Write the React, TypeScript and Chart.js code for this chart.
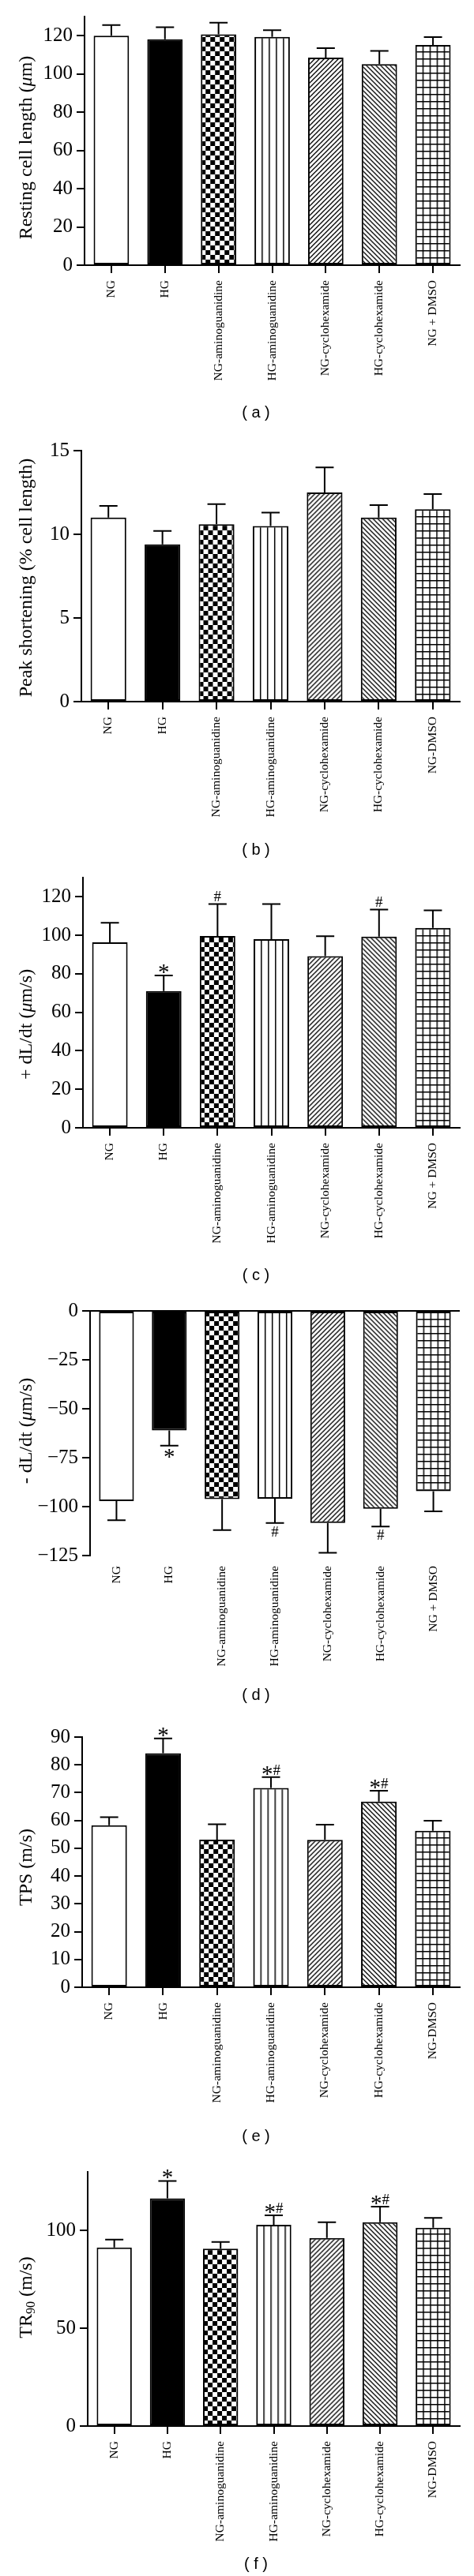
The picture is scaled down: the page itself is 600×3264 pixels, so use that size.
import React, { useEffect, useRef } from "react";
import { Chart, registerables } from "chart.js";

Chart.register(...registerables);

const SERIF = '"Liberation Serif", "Times New Roman", Times, serif';
const SANS = '"Liberation Sans", Arial, sans-serif';

// ---------- categories ----------
const groupsPlusDmso = ["NG", "HG", "NG-aminoguanidine", "HG-aminoguanidine", "NG-cyclohexamide", "HG-cyclohexamide", "NG + DMSO"];
const groupsDashDmso = ["NG", "HG", "NG-aminoguanidine", "HG-aminoguanidine", "NG-cyclohexamide", "HG-cyclohexamide", "NG-DMSO"];

// ---------- (a) resting cell length ----------
const restingLength = [120, 118.1, 120.7, 119.4, 108.5, 105.1, 115.1];
const restingLengthSem = [5.6, 6.3, 6.1, 3.5, 5.0, 6.9, 4.2];
const restingLengthMarks = ["", "", "", "", "", "", ""];

// ---------- (b) peak shortening ----------
const peakShortening = [11.0, 9.4, 10.6, 10.5, 12.5, 11.0, 11.5];
const peakShorteningSem = [0.7, 0.8, 1.2, 0.8, 1.5, 0.75, 0.9];
const peakShorteningMarks = ["", "", "", "", "", "", ""];

// ---------- (c) +dL/dt ----------
const plusDLdt = [96.4, 71.1, 99.7, 98.0, 89.2, 99.3, 103.9];
const plusDLdtSem = [10.1, 8.0, 16.6, 18.3, 10.3, 14.1, 9.1];
const plusDLdtMarks = ["", "*", "#", "", "", "#", ""];

// ---------- (d) -dL/dt ----------
const minusDLdt = [-97.2, -61.1, -96.2, -96.0, -108.4, -101.1, -92.1];
const minusDLdtSem = [9.8, 7.8, 15.8, 12.4, 15.2, 9.1, 10.3];
const minusDLdtMarks = ["", "*", "", "#", "", "#", ""];

// ---------- (e) TPS ----------
const tps = [58.3, 84.2, 53.1, 71.7, 53.0, 66.8, 56.3];
const tpsSem = [2.9, 5.3, 5.5, 3.9, 5.5, 3.9, 3.6];
const tpsMarks = ["", "*", "", "*#", "", "*#", ""];

// ---------- (f) TR90 ----------
const tr90 = [91.3, 116.5, 90.7, 103.0, 96.2, 104.3, 101.4];
const tr90Sem = [4.1, 8.9, 3.5, 4.8, 8.1, 7.9, 5.1];
const tr90Marks = ["", "*", "", "*#", "", "*#", ""];

// ---------- axis titles (segments) ----------
type Seg = { t: string; italic?: boolean; sub?: boolean };
const titleA: Seg[] = [{ t: "Resting cell length (" }, { t: "μ", italic: true }, { t: "m)" }];
const titleB: Seg[] = [{ t: "Peak shortening (% cell length)" }];
const titleC: Seg[] = [{ t: "+ dL/dt (" }, { t: "μ", italic: true }, { t: "m/s)" }];
const titleD: Seg[] = [{ t: "- dL/dt (" }, { t: "μ", italic: true }, { t: "m/s)" }];
const titleE: Seg[] = [{ t: "TPS (m/s)" }];
const titleF: Seg[] = [{ t: "TR" }, { t: "90", sub: true }, { t: " (m/s)" }];

const captions = ["( a )", "( b )", "( c )", "( d )", "( e )", "( f )"];

type PanelDef = {
  labels: string[];
  values: number[];
  sem: number[];
  marks: string[];
  title: Seg[];
  min: number;
  max: number;
  step: number;
  caption: string;
  canvasTop: number;
  axisTop: number;
  chartBottom: number;
  axisX: number;
  captionY: number;
  titleY: number;
};

const PANEL_H = 544;
const RIGHT = 582;
const TITLE_X = 34;
const CAPTION_X = 324;

const panels: PanelDef[] = [
  { labels: groupsPlusDmso, values: restingLength, sem: restingLengthSem, marks: restingLengthMarks, title: titleA, min: 0, max: 130, step: 20, caption: captions[0], canvasTop: 0, axisTop: 21, chartBottom: 336, axisX: 107, captionY: 522, titleY: 187 },
  { labels: groupsDashDmso, values: peakShortening, sem: peakShorteningSem, marks: peakShorteningMarks, title: titleB, min: 0, max: 15, step: 5, caption: captions[1], canvasTop: 544, axisTop: 571, chartBottom: 889, axisX: 103, captionY: 1076, titleY: 732 },
  { labels: groupsPlusDmso, values: plusDLdt, sem: plusDLdtSem, marks: plusDLdtMarks, title: titleC, min: 0, max: 130, step: 20, caption: captions[2], canvasTop: 1088, axisTop: 1112, chartBottom: 1429, axisX: 105, captionY: 1615, titleY: 1298 },
  { labels: groupsPlusDmso, values: minusDLdt, sem: minusDLdtSem, marks: minusDLdtMarks, title: titleD, min: -125, max: 0, step: 25, caption: captions[3], canvasTop: 1632, axisTop: 1661, chartBottom: 1971, axisX: 114, captionY: 2147, titleY: 1813 },
  { labels: groupsDashDmso, values: tps, sem: tpsSem, marks: tpsMarks, title: titleE, min: 0, max: 90, step: 10, caption: captions[4], canvasTop: 2176, axisTop: 2201, chartBottom: 2518, axisX: 104, captionY: 2706, titleY: 2366 },
  { labels: groupsDashDmso, values: tr90, sem: tr90Sem, marks: tr90Marks, title: titleF, min: 0, max: 130, step: 50, caption: captions[5], canvasTop: 2720, axisTop: 2752, chartBottom: 3074, axisX: 111, captionY: 3248, titleY: 2911 },
];

function makeTile(w: number, h: number, draw: (g: CanvasRenderingContext2D) => void) {
  const c = document.createElement("canvas");
  c.width = w;
  c.height = h;
  const g = c.getContext("2d") as CanvasRenderingContext2D;
  g.fillStyle = "#fff";
  g.fillRect(0, 0, w, h);
  g.fillStyle = "#000";
  g.strokeStyle = "#000";
  draw(g);
  return c;
}

function makeFills(ctx: CanvasRenderingContext2D): any[] {
  const checker = makeTile(12, 12, (g) => {
    g.fillRect(0, 0, 6, 6);
    g.fillRect(6, 6, 6, 6);
  });
  const vlines = makeTile(9, 9, (g) => {
    g.fillRect(0, 0, 1.5, 9);
  });
  const fwd = makeTile(6, 6, (g) => {
    g.lineWidth = 1.3;
    g.beginPath();
    g.moveTo(-1, 1); g.lineTo(1, -1);
    g.moveTo(0, 6); g.lineTo(6, 0);
    g.moveTo(5, 7); g.lineTo(7, 5);
    g.stroke();
  });
  const back = makeTile(6, 6, (g) => {
    g.lineWidth = 1.3;
    g.beginPath();
    g.moveTo(0, 0); g.lineTo(6, 6);
    g.moveTo(-1, 5); g.lineTo(1, 7);
    g.moveTo(5, -1); g.lineTo(7, 1);
    g.stroke();
  });
  const grid = makeTile(9, 9, (g) => {
    g.fillRect(0, 0, 9, 1.5);
    g.fillRect(0, 0, 1.5, 9);
  });
  return [
    "#ffffff",
    "#000000",
    ctx.createPattern(checker, "repeat"),
    ctx.createPattern(vlines, "repeat"),
    ctx.createPattern(fwd, "repeat"),
    ctx.createPattern(back, "repeat"),
    ctx.createPattern(grid, "repeat"),
  ];
}

function Panel({ p }: { p: PanelDef }) {
  const ref = useRef<HTMLCanvasElement | null>(null);

  useEffect(() => {
    const canvas = ref.current;
    if (!canvas) return;
    const ctx = canvas.getContext("2d") as CanvasRenderingContext2D;
    const fills = makeFills(ctx);
    const neg = p.max <= 0;
    const padTop = p.axisTop - p.canvasTop;
    const xHeight = p.canvasTop + PANEL_H - p.chartBottom;

    const extras = {
      id: "panelExtras",
      beforeDatasetsDraw(chart: any) {
        const meta = chart.getDatasetMeta(0);
        meta.data.forEach((el: any, i: number) => {
          const f = fills[i];
          if (f && typeof f !== "string" && f.setTransform) {
            f.setTransform(new DOMMatrix([1, 0, 0, 1, el.x - el.width / 2, el.base]));
          }
        });
      },
      afterDraw(chart: any) {
        const c = chart.ctx as CanvasRenderingContext2D;
        const ys = chart.scales.y;
        const meta = chart.getDatasetMeta(0);
        c.save();
        c.strokeStyle = "#000";
        c.fillStyle = "#000";
        c.lineWidth = 2;
        meta.data.forEach((el: any, i: number) => {
          const v = p.values[i];
          const dir = v >= 0 ? 1 : -1;
          const y0 = ys.getPixelForValue(v);
          const y1 = ys.getPixelForValue(v + dir * p.sem[i]);
          c.beginPath();
          c.moveTo(el.x, y0);
          c.lineTo(el.x, y1);
          c.moveTo(el.x - 11.5, y1);
          c.lineTo(el.x + 11.5, y1);
          c.stroke();
          const mark = p.marks[i];
          if (mark) {
            const chars = mark.split("");
            const fonts = chars.map((ch) => (ch === "*" ? `29px ${SERIF}` : `19px ${SERIF}`));
            const widths = chars.map((ch, k) => {
              c.font = fonts[k];
              return c.measureText(ch).width;
            });
            const total = widths.reduce((a, b) => a + b, 0);
            let x = el.x - total / 2;
            c.textAlign = "left";
            c.textBaseline = "alphabetic";
            chars.forEach((ch, k) => {
              c.font = fonts[k];
              const m = c.measureText(ch);
              const by = dir > 0 ? y1 - 3 - m.actualBoundingBoxDescent : y1 + 4 + m.actualBoundingBoxAscent;
              c.fillText(ch, x, by);
              x += widths[k];
            });
          }
        });
        // y-axis title
        const cy = p.titleY - p.canvasTop;
        const segFont = (s: Seg) => (s.sub ? `16px ${SERIF}` : s.italic ? `italic 24px ${SERIF}` : `24px ${SERIF}`);
        const segW = p.title.map((s) => {
          c.font = segFont(s);
          return c.measureText(s.t).width;
        });
        const tw = segW.reduce((a, b) => a + b, 0);
        c.translate(TITLE_X, cy);
        c.rotate(-Math.PI / 2);
        c.textBaseline = "middle";
        c.textAlign = "left";
        let tx = -tw / 2;
        p.title.forEach((s, k) => {
          c.font = segFont(s);
          c.fillText(s.t, tx, s.sub ? 6 : 0);
          tx += segW[k];
        });
        c.restore();
      },
    };

    const chart = new Chart(canvas, {
      type: "bar",
      data: {
        labels: p.labels,
        datasets: [
          {
            data: p.values,
            backgroundColor: fills,
            borderColor: "#000",
            borderWidth: 2,
            borderSkipped: false,
            barPercentage: 0.66,
            categoryPercentage: 1,
          } as any,
        ],
      },
      options: {
        responsive: false,
        maintainAspectRatio: false,
        animation: false,
        layout: { padding: { top: padTop, right: 600 - RIGHT, left: 0, bottom: 0 } },
        plugins: { legend: { display: false }, tooltip: { enabled: false }, title: { display: false } },
        scales: {
          x: {
            offset: true,
            grid: {
              display: !neg,
              drawOnChartArea: false,
              drawTicks: !neg,
              tickLength: 10,
              offset: false,
              color: "#000",
              lineWidth: 2,
            },
            border: { display: !neg, color: "#000", width: 2 },
            ticks: {
              autoSkip: false,
              maxRotation: 90,
              minRotation: 90,
              color: "#000",
              font: { family: SERIF, size: 15.5 },
              padding: neg ? 13 : 9,
            },
            afterFit: (s: any) => {
              s.height = xHeight;
            },
          },
          y: {
            min: p.min,
            max: p.max,
            bounds: "data",
            afterBuildTicks: (s: any) => {
              s.ticks = s.ticks.filter((t: any) => {
                const q = t.value / p.step;
                return Math.abs(q - Math.round(q)) < 1e-9;
              });
            },
            ticks: {
              stepSize: p.step,
              includeBounds: false,
              color: "#000",
              font: { family: SERIF, size: 25 },
              padding: 5,
              callback: (v: any) => (Number(v) < 0 ? "\u2212" + Math.abs(Number(v)) : String(v)),
            },
            grid: {
              drawOnChartArea: neg,
              color: (c: any) => (neg && c.tick && c.tick.value === 0 ? "#000" : "rgba(0,0,0,0)"),
              tickColor: "#000",
              tickLength: 10,
              lineWidth: 2,
            },
            border: { display: true, color: "#000", width: 2 },
            afterFit: (s: any) => {
              s.width = p.axisX;
            },
          } as any,
        },
      },
      plugins: [extras as any],
    });

    return () => chart.destroy();
  }, [p]);

  return (
    <canvas
      ref={ref}
      width={600}
      height={PANEL_H}
      style={{ position: "absolute", left: 0, top: p.canvasTop, width: 600, height: PANEL_H, display: "block" }}
    />
  );
}

export default function App() {
  return (
    <div style={{ position: "absolute", left: 0, top: 0, width: 600, height: 3264, background: "#fff", overflow: "hidden" }}>
      {panels.map((p, i) => (
        <Panel key={i} p={p} />
      ))}
      {panels.map((p, i) => (
        <div
          key={"cap" + i}
          style={{
            position: "absolute",
            left: CAPTION_X - 100,
            width: 200,
            top: p.captionY - 12,
            height: 24,
            lineHeight: "24px",
            textAlign: "center",
            fontFamily: SANS,
            fontSize: 20,
            color: "#000",
            whiteSpace: "pre",
          }}
        >
          {p.caption}
        </div>
      ))}
    </div>
  );
}
